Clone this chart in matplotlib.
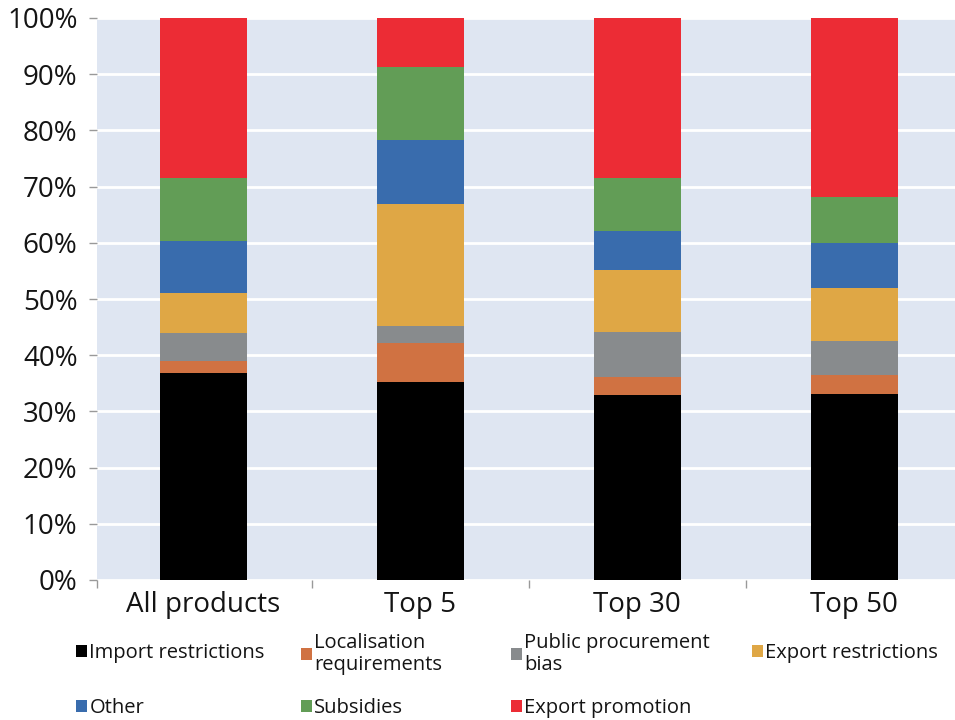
import matplotlib
matplotlib.use("Agg")
import matplotlib.pyplot as plt
from matplotlib.patches import Patch
import numpy as np

categories = ["All products", "Top 5", "Top 30", "Top 50"]
series_names = ["Import restrictions", "Localisation\nrequirements", "Public procurement\nbias",
                "Export restrictions", "Other", "Subsidies", "Export promotion"]
import_restrictions = [36.9, 35.2, 32.9, 33.1]
localisation = [2.1, 6.9, 3.3, 3.4]
public_procurement = [4.9, 3.1, 8.0, 6.1]
export_restrictions = [7.1, 21.7, 11.0, 9.3]
other = [9.3, 11.4, 6.9, 8.0]
subsidies = [11.2, 12.9, 9.4, 8.2]
export_promotion = [28.5, 8.8, 28.5, 31.9]
yticks = [0, 10, 20, 30, 40, 50, 60, 70, 80, 90, 100]

series = [import_restrictions, localisation, public_procurement, export_restrictions,
          other, subsidies, export_promotion]
colors = ["#000000", "#D07242", "#888B8D", "#DFA745", "#396CAD", "#629D56", "#EC2C35"]

plt.rcParams['font.family'] = ['Open Sans', 'DejaVu Sans']
txt = "#141414"

fig = plt.figure(figsize=(9.55, 7.2), dpi=100)
ax = fig.add_axes([97/955, 1-580/720, 1-97/955, (580-18)/720])
ax.set_facecolor("#DFE6F2")

x = np.arange(len(categories))
bottom = np.zeros(len(categories))
for vals, c in zip(series, colors):
    ax.bar(x, vals, 0.4, bottom=bottom, color=c, zorder=3)
    bottom += np.array(vals)

ax.set_ylim(0, 100)
ax.set_xlim(-0.49, 3.465)
ax.set_yticks(yticks)
ax.set_yticklabels([f"{v}%" for v in yticks], fontsize=20, color=txt)
ax.yaxis.grid(True, color="white", linewidth=2, zorder=1)
ax.set_axisbelow(True)
ax.set_xticks(x)
ax.set_xticklabels(categories, fontsize=20, color=txt)
ax.set_xticks([-0.49, 0.5, 1.5, 2.5], minor=True)
ax.tick_params(axis='x', which='major', length=0, pad=8)
ax.tick_params(axis='x', which='minor', length=6, color="#999999", width=1)
ax.tick_params(axis='y', length=6, color="#999999", width=1, pad=8)
for s in ax.spines.values():
    s.set_visible(False)

# legend: one small legend per item, positioned in a grid
pos = [(0.080, 653), (0.315, 654), (0.535, 654), (0.787, 653),
       (0.080, 708), (0.315, 708), (0.535, 708)]
for name, c, (lx, ly) in zip(series_names, colors, pos):
    leg = fig.legend(handles=[Patch(facecolor=c)], labels=[name], loc="center left",
                     bbox_to_anchor=(lx, 1-ly/720), frameon=False, fontsize=14.5,
                     handlelength=0.55, handleheight=0.55, handletextpad=0.1,
                     borderpad=0, borderaxespad=0, labelspacing=0)
    for t in leg.get_texts():
        t.set_color(txt)
        t.set_linespacing(1.1)

fig.savefig("out.png", dpi=100)
